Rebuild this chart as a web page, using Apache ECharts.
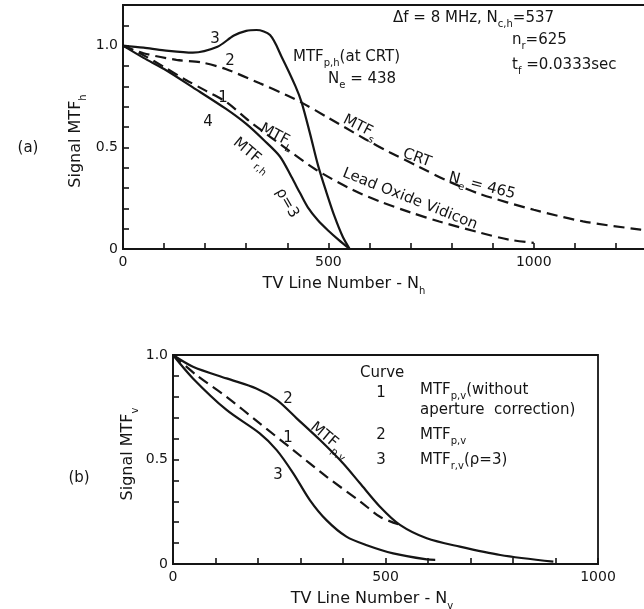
<!DOCTYPE html>
<html>
<head>
<meta charset="utf-8">
<style>
html, body { margin: 0; padding: 0; background: #fff; }
#chart { width: 644px; height: 609px; }
</style>
<script src="https://cdn.jsdelivr.net/npm/echarts@6/dist/echarts.min.js"></script>
</head>
<body>
<div id="chart"></div>
<script>
// (a) horizontal, TV line number N_h
var hCrtPX = [0, 50, 100, 170, 230, 270, 300, 325, 358, 386, 420, 435, 455, 475, 495, 515, 535, 552];
var hCrtPY = [1.0, 0.99, 0.977, 0.966, 0.995, 1.05, 1.073, 1.077, 1.052, 0.946, 0.80, 0.72, 0.57, 0.41, 0.28, 0.16, 0.06, 0];
var hCrtSX = [0, 50, 130, 190, 250, 333, 400, 435, 500, 590, 650, 720, 790, 870, 1000, 1120, 1260, 1300];
var hCrtSY = [1.0, 0.963, 0.93, 0.918, 0.885, 0.815, 0.755, 0.72, 0.645, 0.54, 0.475, 0.405, 0.335, 0.27, 0.193, 0.136, 0.095, 0.085];
var hVidX = [0, 50, 100, 150, 200, 250, 310, 390, 470, 560, 630, 700, 770, 870, 940, 1000];
var hVidY = [1.0, 0.953, 0.895, 0.835, 0.78, 0.725, 0.625, 0.505, 0.39, 0.29, 0.23, 0.18, 0.135, 0.08, 0.046, 0.03];
var hRX = [0, 50, 100, 170, 250, 300, 342, 382, 410, 431, 450, 475, 500, 525, 552];
var hRY = [1.0, 0.94, 0.885, 0.795, 0.69, 0.615, 0.537, 0.455, 0.355, 0.275, 0.205, 0.14, 0.09, 0.045, 0];

// (b) vertical, TV line number N_v
var vNoCorrX = [0, 55, 126, 204, 283, 361, 440, 487, 530];
var vNoCorrY = [1.0, 0.904, 0.80, 0.673, 0.545, 0.418, 0.30, 0.226, 0.19];
var vPX = [0, 47, 126, 196, 244, 291, 346, 400, 440, 487, 534, 597, 675, 770, 895];
var vPY = [1.0, 0.944, 0.888, 0.84, 0.785, 0.697, 0.593, 0.482, 0.386, 0.274, 0.187, 0.123, 0.083, 0.043, 0.011];
var vRX = [0, 47, 126, 204, 244, 283, 322, 361, 408, 456, 518, 597, 617];
var vRY = [1.0, 0.888, 0.737, 0.625, 0.545, 0.434, 0.306, 0.21, 0.131, 0.09, 0.051, 0.022, 0.02];

var xTickValues = [0, 500, 1000];
var xTickText = ['0', '500', '1000'];
var yTickValues = [0, 0.5, 1.0];
var yTickText = ['0', '0.5', '1.0'];

var ink = '#151515';
var FONT = 'DejaVu Sans';

function pairs(xs, ys) {
    return xs.map(function(x, i) { return [x, ys[i]]; });
}
function pick(values, texts) {
    return function(v) {
        for (var i = 0; i < values.length; i++) {
            if (Math.abs(v - values[i]) < 1e-6) return texts[i];
        }
        return '';
    };
}

// "MTF_{p,h}" -> rich text with subscript
function fmt(s) {
    return s.split(/(_\{[^}]*\})/).filter(Boolean).map(function(p) {
        return p.charAt(0) === '_' ? '{s|' + p.slice(2, -1) + '}' : '{m|' + p + '}';
    }).join('');
}
function richFor(size) {
    return {
        m: { fontSize: size, fontFamily: FONT, fill: ink, lineHeight: size + 8, verticalAlign: 'middle' },
        s: { fontSize: Math.round(size * 0.65), fontFamily: FONT, fill: ink, lineHeight: Math.round(size * 0.65), verticalAlign: 'bottom' }
    };
}
function label(text, x, y, opt) {
    opt = opt || {};
    var size = opt.size || 15;
    return {
        type: 'text', x: x, y: y, silent: true,
        rotation: opt.rot ? -opt.rot * Math.PI / 180 : 0,
        style: {
            text: fmt(text), rich: richFor(size),
            fontSize: size, fontFamily: FONT, fill: ink,
            align: opt.align || 'center', verticalAlign: 'middle'
        }
    };
}

var axisLine = { lineStyle: { color: ink, width: 1.8 } };
var axisTick = { inside: true, length: 6, lineStyle: { color: ink, width: 1.6 } };
var tickLabel = { color: ink, fontSize: 14, fontFamily: FONT, margin: 6 };

function line(xi, xs, ys, dashed) {
    return {
        type: 'line', xAxisIndex: xi, yAxisIndex: xi,
        data: pairs(xs, ys), smooth: 0.3, showSymbol: false, silent: true,
        lineStyle: { color: ink, width: 2.2, type: dashed ? [11, 6] : 'solid' }
    };
}

var chart = echarts.init(document.getElementById('chart'), null, { renderer: 'canvas' });
chart.setOption({
    animation: false,
    backgroundColor: '#fff',
    grid: [
        { left: 123, top: 5, width: 534, height: 244, outerBoundsMode: 'none', containLabel: false,
          show: true, borderColor: ink, borderWidth: 1.8 },
        { left: 173, top: 355, width: 425, height: 209, outerBoundsMode: 'none', containLabel: false,
          show: true, borderColor: ink, borderWidth: 1.8 }
    ],
    xAxis: [
        { gridIndex: 0, type: 'value', min: 0, max: 1300, interval: 100,
          axisLine: axisLine, axisTick: axisTick, splitLine: { show: false },
          axisLabel: Object.assign({ formatter: pick(xTickValues, xTickText) }, tickLabel) },
        { gridIndex: 1, type: 'value', min: 0, max: 1000, interval: 100,
          axisLine: axisLine, axisTick: axisTick, splitLine: { show: false },
          axisLabel: Object.assign({ formatter: pick(xTickValues, xTickText) }, tickLabel) }
    ],
    yAxis: [
        { gridIndex: 0, type: 'value', min: 0, max: 1.2, interval: 0.1,
          axisLine: axisLine, axisTick: axisTick, splitLine: { show: false },
          axisLabel: Object.assign({ formatter: pick(yTickValues, yTickText) }, tickLabel, { margin: 5 }) },
        { gridIndex: 1, type: 'value', min: 0, max: 1.0, interval: 0.1,
          axisLine: axisLine, axisTick: axisTick, splitLine: { show: false },
          axisLabel: Object.assign({ formatter: pick(yTickValues, yTickText) }, tickLabel, { margin: 5 }) }
    ],
    series: [
        line(0, hCrtPX, hCrtPY, false),
        line(0, hCrtSX, hCrtSY, true),
        line(0, hVidX, hVidY, true),
        line(0, hRX, hRY, false),
        line(1, vNoCorrX, vNoCorrY, true),
        line(1, vPX, vPY, false),
        line(1, vRX, vRY, false)
    ],
    graphic: [
        // panel (a)
        label('(a)', 28, 148),
        label('Signal MTF_{h}', 76, 141, { rot: -90, size: 16 }),
        label('TV Line Number - N_{h}', 344, 284, { size: 16 }),
        label('\u0394f = 8 MHz, N_{c,h}=537', 393, 18, { align: 'left' }),
        label('n_{r}=625', 512, 40, { align: 'left' }),
        label('t_{f} =0.0333sec', 512, 65, { align: 'left' }),
        label('MTF_{p,h}(at CRT)', 293, 57, { align: 'left' }),
        label('N_{e} = 438', 328, 79, { align: 'left' }),
        label('3', 215, 39),
        label('2', 230, 61),
        label('1', 223, 98),
        label('4', 208, 122),
        label('MTF_{s}', 360, 127, { rot: 27 }),
        label('CRT', 417, 158, { rot: 20 }),
        label('N_{e} = 465', 482, 186, { rot: 15 }),
        label('MTF_{L}', 277, 136, { rot: 28 }),
        label('MTF_{r,h}', 252, 155, { rot: 40 }),
        label('\u03c1=3', 287, 203, { rot: 60 }),
        label('Lead Oxide Vidicon', 410, 199, { rot: 21.6 }),
        // panel (b)
        label('(b)', 79, 478),
        label('Signal MTF_{v}', 128, 454, { rot: -90, size: 16 }),
        label('TV Line Number - N_{v}', 372, 599, { size: 16 }),
        label('2', 288, 399),
        label('1', 288, 438),
        label('3', 278, 475),
        label('MTF_{p,v}', 330, 440, { rot: 40 }),
        label('Curve', 360, 373, { align: 'left' }),
        label('1', 381, 393),
        label('MTF_{p,v}(without', 420, 390, { align: 'left' }),
        label('aperture  correction)', 420, 410, { align: 'left' }),
        label('2', 381, 435),
        label('MTF_{p,v}', 420, 435, { align: 'left' }),
        label('3', 381, 460),
        label('MTF_{r,v}(\u03c1=3)', 420, 460, { align: 'left' })
    ]
});
window.addEventListener('resize', function() { chart.resize(); });
</script>
</body>
</html>
